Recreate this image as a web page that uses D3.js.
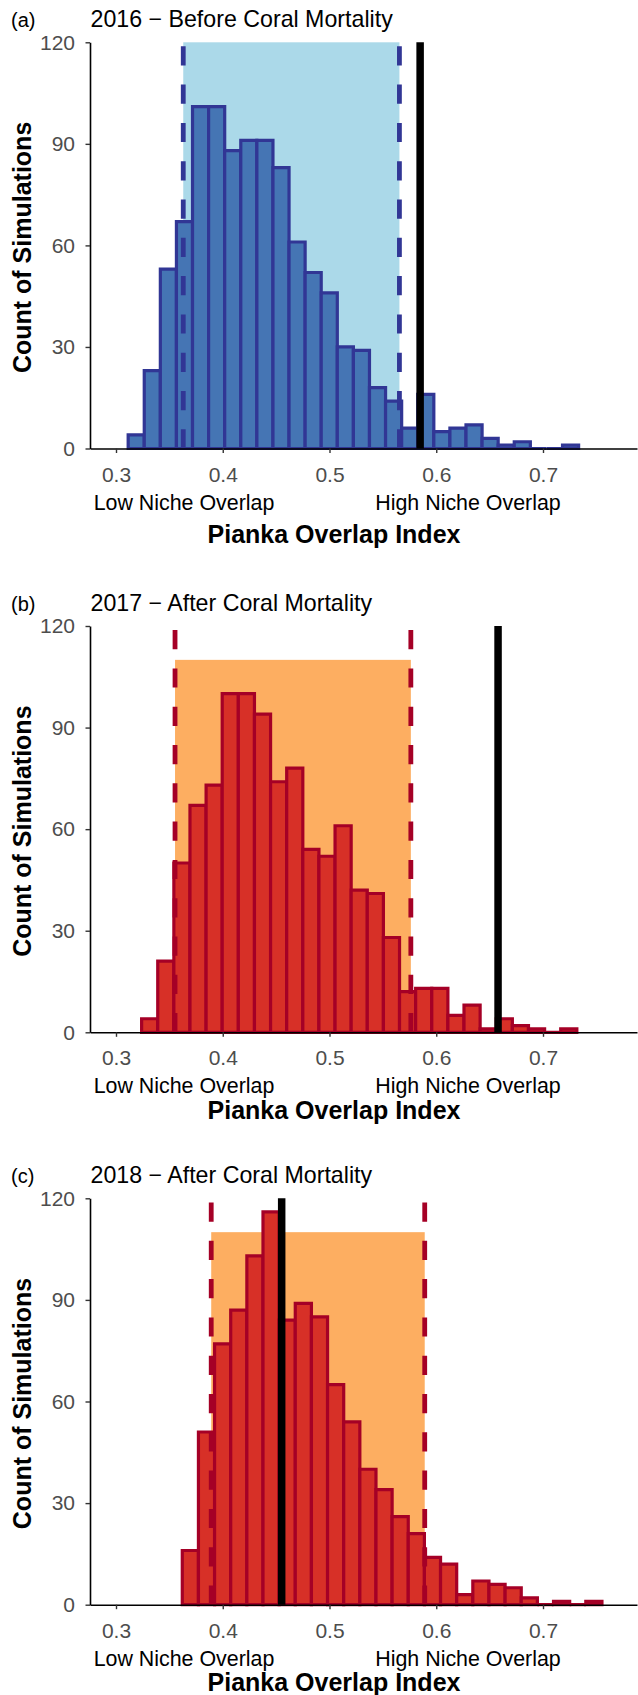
<!DOCTYPE html>
<html><head><meta charset="utf-8">
<script src="https://cdn.jsdelivr.net/npm/d3@7"></script>
<style>
body{margin:0;background:#fff}
text{font-family:"Liberation Sans",Arial,Helvetica,sans-serif}
</style>
</head><body>
<svg id="chart" width="638" height="1695"></svg>
<script>
// ---- data ----
const panelLabels = ["(a)", "(b)", "(c)"];
const panelTitles = ["2016 \u2212 Before Coral Mortality", "2017 \u2212 After Coral Mortality", "2018 \u2212 After Coral Mortality"];
const xTicks = [0.3, 0.4, 0.5, 0.6, 0.7];
const yTicks = [0, 30, 60, 90, 120];
const counts2016 = [4,23,53,67,101,101,88,91,91,83,61,52,46,30,29,18,14,6,16,5,6,7,3,1,2,0,0,1];
const counts2017 = [4,21,50,67,73,100,100,94,74,78,54,52,61,42,41,28,12,13,13,5,8,1,4,2,1,0,1];
const counts2018 = [16,51,77,87,103,116,84,89,85,65,54,40,34,26,21,14,12,3,7,6,5,2,0,1,0,1];
const binStart = [0.3114, 0.3240, 0.3621];
const binWidth = [0.01507, 0.01510, 0.01512];
const nullLow = [0.3630, 0.3553, 0.3892];
const nullHigh = [0.5655, 0.5762, 0.5892];
const nullTop = [120, 110, 110];
const observed = [0.5849, 0.6579, 0.4552];
const lowLabel = "Low Niche Overlap";
const highLabel = "High Niche Overlap";
const xTitle = "Pianka Overlap Index";
const yTitle = "Count of Simulations";

// ---- layout / style ----
const counts = [counts2016, counts2017, counts2018];
const panelTop = [42.3, 626, 1198.3];
const panelBottom = [448.5, 1032.3, 1604.7];
const xTitleBase = [542.5, 1118.5, 1690.5];
const palettes = [
  {rect: "#ABD9E9", fill: "#4575B4", line: "#313695"},
  {rect: "#FDAE61", fill: "#D73027", line: "#A50026"},
  {rect: "#FDAE61", fill: "#D73027", line: "#A50026"}
];

const svg = d3.select("#chart");
svg.append("rect").attr("width", 638).attr("height", 1695).attr("fill", "#fff");

const x = d3.scaleLinear().domain([0.3, 0.7]).range([116, 543]);
const xLeft = x.invert(90), xRight = x.invert(637);
x.domain([xLeft, xRight]).range([90, 637]);

counts.forEach((cs, p) => {
  const g = svg.append("g");
  const pal = palettes[p];
  const y = d3.scaleLinear().domain([0, 120]).range([panelBottom[p], panelTop[p]]);

  // null-distribution rectangle
  g.append("rect")
    .attr("x", x(nullLow[p])).attr("width", x(nullHigh[p]) - x(nullLow[p]))
    .attr("y", y(nullTop[p])).attr("height", y(0) - y(nullTop[p]))
    .attr("fill", pal.rect);

  // histogram bars
  const bins = cs.map((c, i) => ({x0: binStart[p] + i * binWidth[p], x1: binStart[p] + (i + 1) * binWidth[p], c}));
  g.selectAll("path.bar").data(bins).join("path")
    .attr("class", "bar")
    .attr("d", d => `M${x(d.x0)},${y(0)}V${y(d.c)}H${x(d.x1)}V${y(0)}Z`)
    .attr("fill", pal.fill).attr("stroke", pal.line).attr("stroke-width", 3.2)
    .attr("stroke-linejoin", "miter");

  // dashed quantile lines
  [nullLow[p], nullHigh[p]].forEach(v => {
    g.append("line")
      .attr("x1", x(v)).attr("x2", x(v)).attr("y1", y(0)).attr("y2", y(120))
      .attr("stroke", pal.line).attr("stroke-width", 4.8)
      .attr("stroke-dasharray", "19.2 19.1");
  });

  // observed value
  g.append("line")
    .attr("x1", x(observed[p])).attr("x2", x(observed[p])).attr("y1", y(0)).attr("y2", y(120))
    .attr("stroke", "#000").attr("stroke-width", 7.5);

  // axes
  const gx = g.append("g").attr("transform", `translate(0,${y(0)})`)
    .call(d3.axisBottom(x).tickValues(xTicks).tickFormat(d3.format(".1f"))
      .tickSize(4.5).tickSizeOuter(0).tickPadding(13.6));
  const gy = g.append("g").attr("transform", `translate(90,0)`)
    .call(d3.axisLeft(y).tickValues(yTicks).tickSize(4.5).tickSizeOuter(0).tickPadding(10.5));
  [gx, gy].forEach(a => {
    a.select(".domain").attr("stroke", "#000").attr("stroke-width", 1.6);
    a.selectAll(".tick line").attr("stroke", "#333").attr("stroke-width", 1.4);
    a.selectAll(".tick text").attr("fill", "#4D4D4D").style("font-size", "21px")
      .style("font-family", '"Liberation Sans",Arial,sans-serif');
  });

  // titles
  g.append("text").attr("x", 11).attr("y", panelTop[p] - 15.5)
    .style("font-size", "20px").attr("fill", "#000").text(panelLabels[p]);
  g.append("text").attr("x", 90.5).attr("y", panelTop[p] - 15.5)
    .style("font-size", "23.2px").attr("fill", "#000").text(panelTitles[p]);

  // annotations under axis
  g.append("text").attr("x", 184).attr("y", panelBottom[p] + 61).attr("text-anchor", "middle")
    .style("font-size", "21.4px").attr("fill", "#000").text(lowLabel);
  g.append("text").attr("x", 468).attr("y", panelBottom[p] + 61).attr("text-anchor", "middle")
    .style("font-size", "21.4px").attr("fill", "#000").text(highLabel);

  // axis titles
  g.append("text").attr("x", 334).attr("y", xTitleBase[p]).attr("text-anchor", "middle")
    .style("font-size", "25px").style("font-weight", "bold").attr("fill", "#000").text(xTitle);
  const cy = (panelTop[p] + panelBottom[p]) / 2 + 2;
  g.append("text").attr("transform", `translate(30.5,${cy}) rotate(-90)`).attr("text-anchor", "middle")
    .style("font-size", "25px").style("font-weight", "bold").attr("fill", "#000").text(yTitle);
});
</script>
</body></html>
